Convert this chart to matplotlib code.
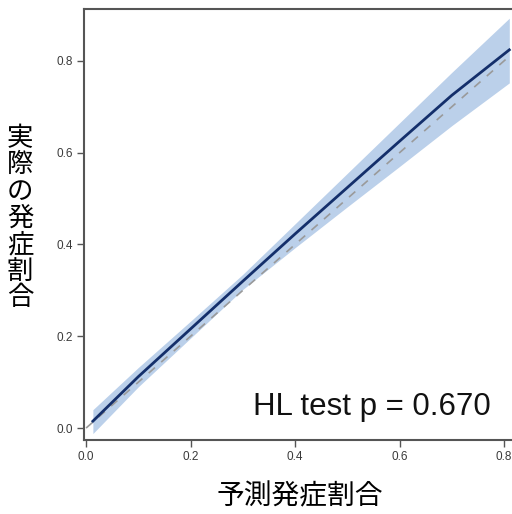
import numpy as np
import matplotlib
matplotlib.use("Agg")
import matplotlib.pyplot as plt

plt.rcParams['font.family'] = ['Liberation Sans', 'Noto Sans CJK JP', 'DejaVu Sans']

# calibration curve (predicted vs observed) with CI band
pred = [0.013, 0.1, 0.2, 0.3, 0.4, 0.5, 0.6, 0.7, 0.81]
obs = [0.015, 0.112, 0.216, 0.320, 0.423, 0.524, 0.625, 0.725, 0.824]
ci_lo = [-0.012, 0.090, 0.196, 0.302, 0.393, 0.482, 0.570, 0.659, 0.752]
ci_hi = [0.040, 0.132, 0.233, 0.335, 0.445, 0.555, 0.665, 0.775, 0.893]
diag = [0.0, 0.81]
ticks = [0.0, 0.2, 0.4, 0.6, 0.8]
xlabel = "予測発症割合"
ylabel = "実際の発症割合"
hl_text = "HL test p = 0.670"

fig = plt.figure(figsize=(5.12, 5.14), dpi=100)
ax = fig.add_axes([84/512, 74/514, 0.8817, 431/514])

ax.fill_between(pred, ci_lo, ci_hi, color='#bbd0ea', lw=0)
ax.plot(diag, diag, color='#9a9a9a', lw=1.2, ls=(0, (5, 5)))
ax.plot(pred, obs, color='#142f6b', lw=2)

ax.set_xlim(-0.004, 0.86)
ax.set_ylim(-0.026, 0.913)
ax.set_xticks(ticks)
ax.set_yticks(ticks)
ax.set_xticklabels([f"{t:.1f}" for t in ticks])
ax.set_yticklabels([f"{t:.1f}" for t in ticks])
ax.tick_params(direction='out', length=5, width=1, color='#555555',
               labelsize=8.5, labelcolor='#3a3a3a', pad=3)
for s in ax.spines.values():
    s.set_color('#555555'); s.set_linewidth(1.5)

ax.text(0.775, 0.028, hl_text, fontsize=22.5, ha='right', va='baseline',
        color='#111111')

fig.text(300/512, 1 - 496/514, xlabel, fontsize=20, ha='center', va='center',
         family=['Noto Sans CJK JP'])
fig.text(20/512, 1 - 218/514, "\n".join(ylabel), fontsize=19, ha='center',
         va='center', linespacing=0.98, family=['Noto Sans CJK JP'])

fig.savefig("out.png", dpi=100)
